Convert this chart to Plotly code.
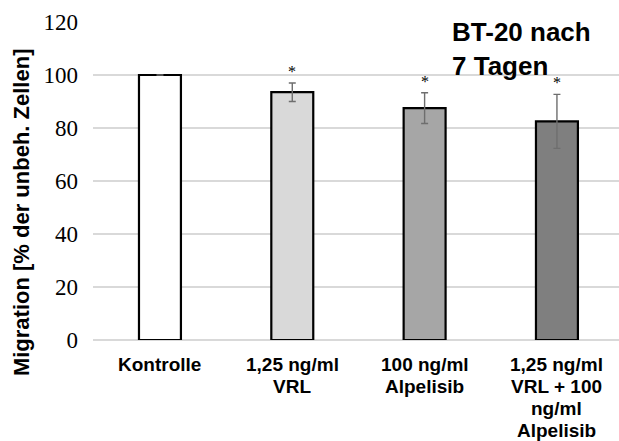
import plotly.graph_objects as go

# Migration data for BT-20 after 7 days
categories = ["Kontrolle", "1,25 ng/ml<br>VRL", "100 ng/ml<br>Alpelisib",
              "1,25 ng/ml<br>VRL + 100<br>ng/ml<br>Alpelisib"]
migration = [100.0, 93.5, 87.5, 82.5]
errors = [0.0, 3.5, 5.8, 10.2]
significant = [False, True, True, True]
bar_colors = ["#ffffff", "#d9d9d9", "#a6a6a6", "#7f7f7f"]
y_ticks = [0, 20, 40, 60, 80, 100, 120]

sans = "Arial, Liberation Sans, sans-serif"
serif = "Times New Roman, Liberation Serif, serif"

fig = go.Figure()
fig.add_trace(go.Bar(
    x=list(range(len(categories))),
    y=migration,
    width=0.317,
    marker=dict(color=bar_colors, line=dict(color="#000000", width=2.2)),
    error_y=dict(type="data", array=errors, visible=True,
                 color="#6e6e6e", thickness=1.4, width=3.5),
    showlegend=False,
))

# significance markers above the error bars
for i, (v, e, s) in enumerate(zip(migration, errors, significant)):
    if s:
        fig.add_annotation(x=i, y=v + e, xref="x", yref="y", text="*",
                           showarrow=False, yanchor="bottom", yshift=1,
                           font=dict(family=serif, size=16, color="#000000"))

# category labels, one line at a time for a tighter line spacing
first_line_offset = 24.5
line_step = 22
for i, label in enumerate(categories):
    for k, line in enumerate(label.split("<br>")):
        fig.add_annotation(x=i, y=0, xref="x", yref="paper", text=line,
                           showarrow=False, xanchor="center", yanchor="middle",
                           borderpad=0,
                           yshift=-(first_line_offset + k * line_step),
                           font=dict(family=sans, size=19, color="#000000",
                                     weight="bold"))

fig.add_annotation(x=0.679, y=1.022, xref="paper", yref="paper",
                   text="BT-20 nach<br>7 Tagen", showarrow=False,
                   xanchor="left", yanchor="top", align="left",
                   font=dict(family=sans, size=26, color="#000000", weight="bold"))

fig.add_annotation(x=-0.137, y=0.402, xref="paper", yref="paper",
                   text="Migration [% der unbeh. Zellen]", showarrow=False,
                   textangle=-90, xanchor="center", yanchor="middle",
                   font=dict(family=sans, size=22, color="#000000", weight="bold"))

fig.update_layout(
    width=619, height=441,
    margin=dict(l=93, r=0, t=22, b=101),
    plot_bgcolor="#ffffff", paper_bgcolor="#ffffff",
    xaxis=dict(range=[-0.506, 3.469], tickvals=list(range(len(categories))),
               showticklabels=False, showgrid=False, zeroline=False,
               showline=False, ticks="", automargin=False),
    yaxis=dict(range=[0, 120], tickvals=y_ticks, showgrid=True,
               gridcolor="#d9d9d9", gridwidth=1.5, zeroline=True,
               zerolinecolor="#d9d9d9", zerolinewidth=1.5, showline=False,
               ticks="", ticklabelstandoff=14, automargin=False,
               tickfont=dict(family=serif, size=23, color="#000000")),
)

fig.write_html("out.html")
